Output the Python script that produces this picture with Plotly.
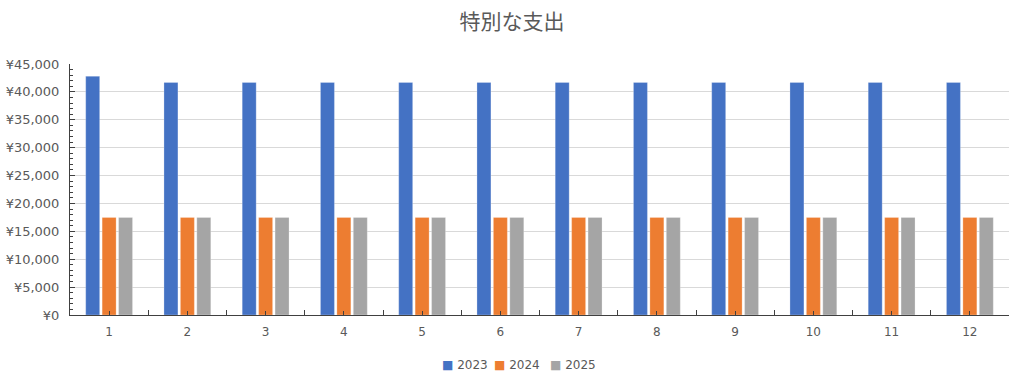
import plotly.graph_objects as go

months = list(range(1, 13))
s2023 = [42800, 41700, 41700, 41700, 41700, 41700, 41700, 41700, 41700, 41700, 41700, 41700]
s2024 = [17500] * 12
s2025 = [17500] * 12
series_names = ["2023", "2024", "2025"]
colors = ["#4472C4", "#ED7D31", "#A5A5A5"]

fig = go.Figure()
for name, vals, c in zip(series_names, [s2023, s2024, s2025], colors):
    fig.add_trace(go.Bar(x=months, y=vals, name=name,
                         marker=dict(color=c, line=dict(color="rgba(255,255,255,0.5)", width=0.5))))

W, H = 1024, 386
L, R, T, B = 70, 15, 64, 71
font_fam = "DejaVu Sans, Noto Sans, sans-serif"

# compact Excel-style legend drawn as annotations (paper coordinates)
pw, ph = W - L - R, H - T - B
legend_left_px = [440, 492, 548]
legend_y_px = 365
annotations = []
for name, c, lx in zip(series_names, colors, legend_left_px):
    annotations.append(dict(
        text=f"<span style='color:{c}'>■</span> {name}",
        x=(lx - L) / pw, y=(H - B - legend_y_px) / ph, xref="paper", yref="paper",
        xanchor="left", yanchor="middle", showarrow=False,
        font=dict(family=font_fam, size=12, color="#595959")))

fig.update_layout(
    width=W, height=H,
    margin=dict(l=L, r=R, t=T, b=B, autoexpand=False),
    paper_bgcolor="white", plot_bgcolor="white",
    barmode="group", bargap=0.37, bargroupgap=0.15,
    title=dict(text="特別な支出", x=512 / W, xanchor="center", xref="container",
               y=1 - 22 / H, yanchor="middle",
               font=dict(family="Noto Sans CJK JP, sans-serif", size=21, color="#595959")),
    font=dict(family=font_fam, size=12, color="#595959"),
    showlegend=False,
    annotations=annotations,
    xaxis=dict(range=[0.5, 12.5], tickvals=months, ticktext=[str(m) for m in months],
               showgrid=False, showline=True, linecolor="#404040", linewidth=1,
               ticks="inside", ticklen=4, tickcolor="#404040",
               minor=dict(tick0=0.5, dtick=1, ticks="inside", ticklen=5, tickcolor="#404040", showgrid=False),
               zeroline=False, fixedrange=True, automargin=False, ticklabelstandoff=6,
               tickfont=dict(size=12, color="#595959")),
    yaxis=dict(range=[0, 45000], dtick=5000, tickprefix="¥", tickformat=",",
               showgrid=True, gridcolor="#D9D9D9", gridwidth=1,
               showline=True, linecolor="#404040", linewidth=1,
               ticks="inside", ticklen=5, tickcolor="#404040",
               minor=dict(dtick=1000, ticks="inside", ticklen=3, tickcolor="#404040", showgrid=False),
               zeroline=False, fixedrange=True, automargin=False, ticklabelstandoff=7,
               tickfont=dict(size=13, color="#595959")),
)

fig.write_html("out.html", config={"displayModeBar": False},
               post_script="document.body.style.margin='0';document.body.style.overflow='hidden';")
